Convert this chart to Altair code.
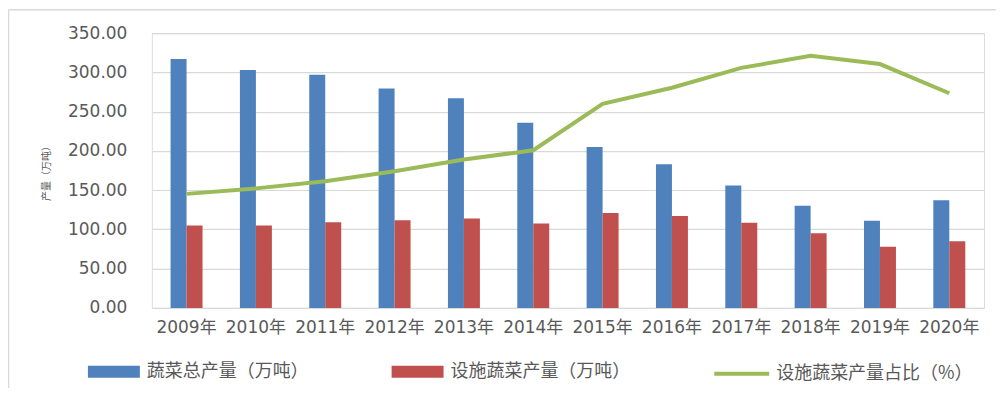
import altair as alt
import pandas as pd

years = ["2009年", "2010年", "2011年", "2012年", "2013年", "2014年",
         "2015年", "2016年", "2017年", "2018年", "2019年", "2020年"]
total_output = [317, 303, 297, 279.5, 267, 236, 205, 183, 156, 130, 111, 137]
facility_output = [105, 105, 109, 111.5, 114, 107.5, 121, 117, 108.5, 95, 78, 85]
facility_share = [33.2, 34.8, 36.9, 39.8, 43.2, 45.9, 59.4, 64.1, 69.9, 73.4, 71.0, 62.5]

series_names = ["蔬菜总产量（万吨）", "设施蔬菜产量（万吨）"]
line_name = "设施蔬菜产量占比（%）"
y_ticks = [0, 50, 100, 150, 200, 250, 300, 350]

BLUE = "#4F81BD"
RED = "#C0504D"
GREEN = "#9BBB59"
GREY_TXT = "#595959"
GRID = "#D9D9D9"
CJK = "'Noto Sans CJK SC', sans-serif"
LAT = "'DejaVu Sans', 'Noto Sans CJK SC', sans-serif"

rows = []
for i, y in enumerate(years):
    rows.append({"year": y, "series": series_names[0], "value": total_output[i]})
    rows.append({"year": y, "series": series_names[1], "value": facility_output[i]})
df_bars = pd.DataFrame(rows)
df_line = pd.DataFrame({"year": years, "share": facility_share, "label": [line_name] * len(years)})

x_enc = alt.X(
    "year:N", sort=years,
    scale=alt.Scale(paddingInner=0.539, paddingOuter=0.27),
    axis=alt.Axis(title=None, labelAngle=0, ticks=False, domain=False, grid=False,
                  labelFont=LAT, labelFontSize=17, labelColor=GREY_TXT, labelPadding=12),
)

bars = alt.Chart(df_bars).mark_bar().encode(
    x=x_enc,
    xOffset=alt.XOffset("series:N", sort=series_names,
                        scale=alt.Scale(paddingInner=0, paddingOuter=0)),
    y=alt.Y("value:Q", scale=alt.Scale(domain=[0, 350], nice=False),
            axis=alt.Axis(values=y_ticks, format=".2f", title="产量（万吨）",
                          ticks=False, domain=False, grid=True, gridColor=GRID, gridWidth=1.2,
                          labelFont=LAT, labelFontSize=17, labelColor=GREY_TXT, labelPadding=25,
                          titleFont=CJK, titleFontSize=10, titleFontWeight="normal",
                          titleColor=GREY_TXT, titleX=-105, titleY=137.5,
                          titleAlign="center", titleBaseline="middle")),
    color=alt.Color("series:N", sort=series_names,
                    scale=alt.Scale(domain=series_names, range=[BLUE, RED]),
                    legend=alt.Legend(title=None, orient="none", legendX=-64, legendY=313,
                                      direction="horizontal",
                                      symbolType="M-1,-0.23H1V0.23H-1Z", symbolSize=2704,
                                      symbolStrokeWidth=0, symbolOpacity=1,
                                      labelFont=CJK, labelFontSize=18, labelColor=GREY_TXT,
                                      labelOffset=7, columnPadding=83, labelLimit=400,
                                      padding=0)),
)

line = alt.Chart(df_line).mark_line(strokeWidth=4, color=GREEN).encode(
    x=x_enc,
    y=alt.Y("share:Q", scale=alt.Scale(domain=[0, 80], nice=False), axis=None),
    stroke=alt.Stroke("label:N", scale=alt.Scale(domain=[line_name], range=[GREEN]),
                      legend=alt.Legend(title=None, orient="none", legendX=561, legendY=311.5,
                                        symbolType="stroke", symbolSize=3025,
                                        symbolStrokeWidth=4,
                                        labelFont=CJK, labelFontSize=18, labelColor=GREY_TXT,
                                        labelOffset=5, labelLimit=400, padding=0)),
)

frame_df = pd.DataFrame({"k": [0]})
frame_top = alt.Chart(frame_df).mark_rule(color=GRID, strokeWidth=1.5).encode(
    x=alt.value(-143.5), x2=alt.value(900), y=alt.value(-23.5))
frame_left = alt.Chart(frame_df).mark_rule(color=GRID, strokeWidth=1.5).encode(
    x=alt.value(-143.5), y=alt.value(-23.5), y2=alt.value(360))

chart = alt.layer(frame_top, frame_left, bars, line).resolve_scale(
    y="independent"
).properties(
    width=833, height=275,
    autosize=alt.AutoSizeParams(type="none"),
    padding={"left": 144, "top": 25, "right": 12, "bottom": 80},
).configure_view(stroke=None).configure(background="white")

chart.save("out.html", embed_options={"renderer": "svg", "actions": False})
